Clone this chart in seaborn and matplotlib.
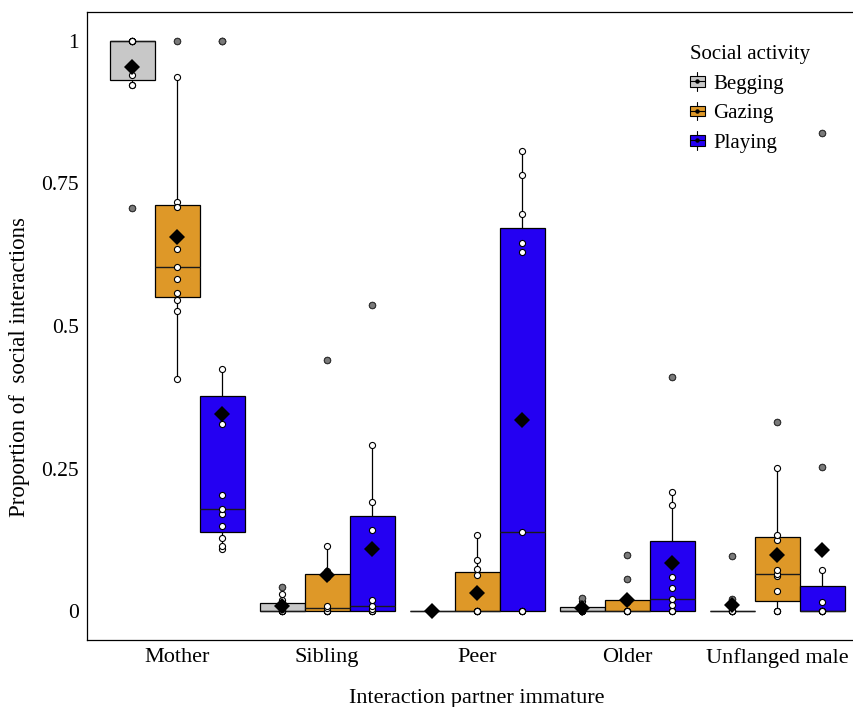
import numpy as np
import pandas as pd
import matplotlib
matplotlib.use('Agg')
import matplotlib.pyplot as plt
import matplotlib.transforms as mtransforms
from matplotlib.patches import Patch, Rectangle
from matplotlib.lines import Line2D
from matplotlib.legend_handler import HandlerBase
import seaborn as sns

# categories
partners = ['Mother', 'Sibling', 'Peer', 'Older', 'Unflanged male']
activities = ['Begging', 'Gazing', 'Playing']
palette = ['#C8C8C8', '#DE9828', '#2400F2']

# proportion of social interactions per immature (n = 11), one list per partner,
# in the order of `partners`
begging = [
    [1, 1, 1, 1, 1, 1, 1, 0.94, 0.923, 0.923, 0.707],
    [0, 0, 0, 0, 0, 0, 0.005, 0.01, 0.02, 0.031, 0.042],
    [0, 0, 0, 0, 0, 0, 0, 0, 0, 0, 0],
    [0, 0, 0, 0, 0, 0, 0.008, 0.008, 0.009, 0.018, 0.024],
    [0, 0, 0, 0, 0, 0, 0, 0, 0, 0.021, 0.097],
]
gazing = [
    [1.0, 0.936, 0.717, 0.708, 0.635, 0.604, 0.582, 0.558, 0.545, 0.526, 0.408],
    [0, 0, 0, 0, 0, 0.0064, 0.01, 0.06, 0.071, 0.115, 0.441],
    [0, 0, 0, 0, 0, 0, 0, 0.0646, 0.0745, 0.091, 0.134],
    [0, 0, 0, 0, 0, 0, 0.017, 0.019, 0.021, 0.0564, 0.0995],
    [0, 0, 0, 0.0367, 0.0628, 0.066, 0.0733, 0.1257, 0.134, 0.251, 0.332],
]
playing = [
    [0.11, 0.114, 0.1286, 0.149, 0.171, 0.1786, 0.204, 0.329, 0.425, 1.0, 1.0],
    [0, 0, 0, 0, 0.005, 0.0093, 0.02, 0.143, 0.191, 0.291, 0.537],
    [0, 0, 0, 0, 0, 0.14, 0.629, 0.646, 0.696, 0.765, 0.806],
    [0, 0, 0, 0, 0.0105, 0.022, 0.041, 0.061, 0.187, 0.209, 0.411],
    [0, 0, 0, 0, 0, 0, 0, 0.017, 0.0733, 0.2525, 0.838],
]

yticks = [0, 0.25, 0.5, 0.75, 1]
ytick_labels = ['0', '0.25', '0.5', '0.75', '1']

# long table
rows = []
for act, series in zip(activities, [begging, gazing, playing]):
    for p, vals in zip(partners, series):
        for v in vals:
            rows.append((p, act, v))
df = pd.DataFrame(rows, columns=['partner', 'activity', 'prop'])

sns.set_style('white')
plt.rcParams['font.family'] = ['Liberation Serif', 'DejaVu Serif']
plt.rcParams['text.color'] = 'black'
plt.rcParams['axes.labelcolor'] = 'black'
plt.rcParams['xtick.color'] = 'black'
plt.rcParams['ytick.color'] = 'black'

fig = plt.figure(figsize=(8.54, 7.07), dpi=100)
W, H = 854, 707
ax = fig.add_axes([87 / W, (H - 640) / H, (867 - 87) / W, (640 - 12) / H])

sns.boxplot(data=df, x='partner', y='prop', hue='activity',
            order=partners, hue_order=activities, palette=palette,
            width=0.9, gap=0, whis=1.5, showcaps=False,
            linecolor='black', linewidth=0.9, legend=False, saturation=1,
            flierprops=dict(marker='o', markerfacecolor='#7a7a7a',
                            markeredgecolor='#333333', markersize=4.6,
                            markeredgewidth=0.8, zorder=4),
            medianprops=dict(color='#1a1a1a', linewidth=1.0),
            ax=ax)

# individual points (open circles), shifted to their dodged box
for i, act in enumerate(activities):
    shift = mtransforms.Affine2D().translate((i - 1) * 0.3, 0) + ax.transData
    sns.stripplot(data=df[df['activity'] == act], x='partner', y='prop',
                  order=partners, jitter=False, color='white',
                  edgecolor='black', linewidth=0.8, size=4.4,
                  transform=shift, zorder=3, ax=ax)

# group means
sns.pointplot(data=df, x='partner', y='prop', hue='activity',
              order=partners, hue_order=activities,
              palette={a: 'black' for a in activities},
              estimator='mean', errorbar=None, dodge=0.6,
              linestyle='none', markers='D', markersize=8,
              markeredgewidth=0, legend=False, zorder=5, ax=ax)

ax.set_xlim(-0.6, 4.6)
ax.set_ylim(-0.05, 1.05)
ax.set_yticks(yticks)
ax.set_yticklabels(ytick_labels)
ax.tick_params(axis='y', direction='out', length=5, width=0.9, pad=1,
               labelsize=15.5)
ax.tick_params(axis='x', length=0, pad=6, labelsize=16)
for s in ['left', 'bottom', 'top', 'right']:
    ax.spines[s].set_color('black')
    ax.spines[s].set_linewidth(0.9)

ax.set_xlabel('Interaction partner immature', fontsize=16)
ax.set_ylabel('Proportion of  social interactions', fontsize=16.5)
ax.xaxis.set_label_coords(0.5, -0.078)
ax.yaxis.set_label_coords(-0.073, 0.435)


class BoxKey(HandlerBase):
    def create_artists(self, legend, orig, xd, yd, width, height, fontsize, trans):
        x0, y0 = -xd, -yd
        cx, cy = x0 + width / 2, y0 + height / 2
        whisk = Line2D([cx, cx], [y0 - 0.2 * height, y0 + 1.2 * height],
                       color='black', lw=0.8, transform=trans)
        box = Rectangle((x0, y0 + 0.1 * height), width, 0.8 * height,
                        facecolor=orig.get_facecolor(), edgecolor='black',
                        lw=0.8, transform=trans)
        med = Line2D([x0, x0 + width], [cy, cy], color='black', lw=0.8,
                     transform=trans)
        dot = Line2D([cx], [cy], marker='o', markersize=2.2, color='black',
                     transform=trans)
        return [whisk, box, med, dot]


handles = [Patch(facecolor=c, edgecolor='black') for c in palette]
leg = ax.legend(handles, activities, title='Social activity',
                handler_map={Patch: BoxKey()},
                loc='upper left', bbox_to_anchor=(680 / W, (H - 35) / H),
                bbox_transform=fig.transFigure, frameon=False,
                borderpad=0, handlelength=0.68, handleheight=0.6,
                handletextpad=0.4, labelspacing=0.5,
                fontsize=15, title_fontsize=15, alignment='left')

fig.savefig('out.png', dpi=100)
